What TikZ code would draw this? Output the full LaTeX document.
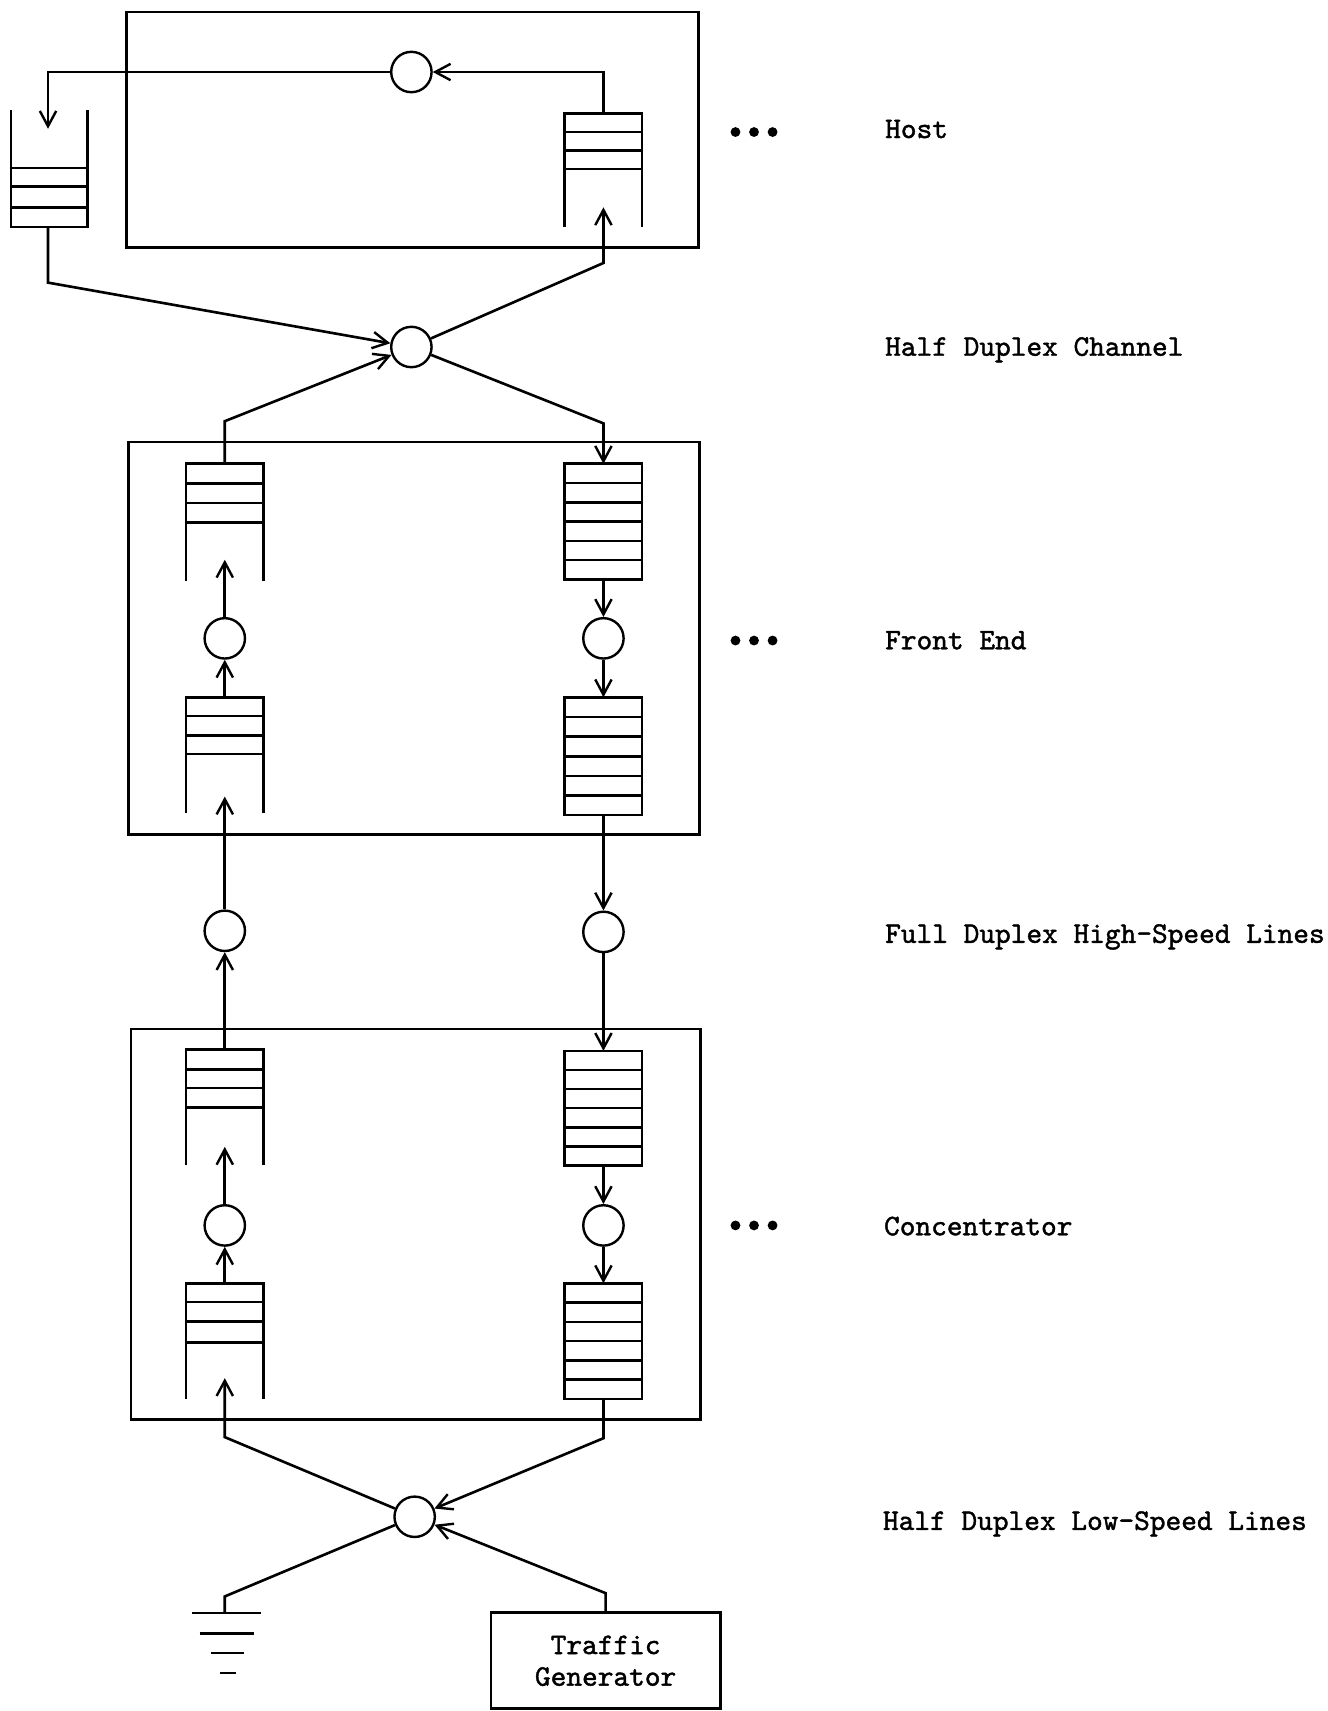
\documentclass[tikz,border=0pt]{standalone}
\usepackage{fontspec}
\usetikzlibrary{arrows.meta}
\newfontfamily\twfont{lmmono10-regular.otf}[FakeBold=1.4]
\newcommand\labfont{\twfont\fontsize{27.4pt}{29pt}\selectfont}
\newcommand\qclosedsix[3]{% cx, top, bottom : six slots
  \draw (#1-35.5,#2) rectangle (#1+35.5,#3);
  \pgfmathsetmacro\qstep{(#3-#2)/6}
  \foreach \k in {1,...,5}{\draw (#1-35.5,#2+\k*\qstep) -- (#1+35.5,#2+\k*\qstep);}
}
\newcommand\qopenbot[6]{% cx, top, l1, l2, l3, wall bottom
  \draw (#1-35.5,#6) -- (#1-35.5,#2) -- (#1+35.5,#2) -- (#1+35.5,#6);
  \foreach \yy in {#3,#4,#5}{\draw (#1-35.5,\yy) -- (#1+35.5,\yy);}
}
\begin{document}
\begin{tikzpicture}[x=1pt,y=-1pt,line width=2.4pt,
  arr/.style={-{Straight Barb[length=14pt,width=15pt,line width=2.2pt]}},
  srv/.style={circle,draw,line width=2.2pt,minimum size=37pt,inner sep=0pt},
  box/.style={draw,line width=2.5pt},
  lbl/.style={anchor=base west,inner sep=0pt,font=\labfont},
  dot/.style={circle,fill,inner sep=0pt,minimum size=9pt}]
\useasboundingbox (0,0) rectangle (1217,1568);

% enclosing boxes
\draw[box] (116,11) rectangle (640,227);
\draw[box] (118,405) rectangle (641,765);
\draw[box] (120,943) rectangle (642,1301);

% queues
% host left (open top)
\draw (10,101) -- (10,208) -- (80,208) -- (80,101);
\foreach \yy in {154,171,190}{\draw (10,\yy) -- (80,\yy);}
% host right (open bottom)
\qopenbot{553}{104}{121}{138}{155}{208}
% front end
\qopenbot{206}{425}{443}{461}{479}{532}
\qclosedsix{553}{425}{531}
\qopenbot{206}{639}{656}{674}{691}{745}
\qclosedsix{553}{639}{747}
% concentrator
\qopenbot{206}{962}{980}{997}{1015}{1068}
\qclosedsix{553}{963}{1068}
\qopenbot{206}{1176}{1193}{1211}{1230}{1282}
\qclosedsix{553}{1176}{1282}

% servers
\node[srv] (hs) at (377,66) {};
\node[srv] (ch) at (377,318) {};
\node[srv] (fel) at (206,585) {};
\node[srv] (fer) at (553,585) {};
\node[srv] (fdl) at (206,853) {};
\node[srv] (fdr) at (553,854) {};
\node[srv] (cl) at (206,1123) {};
\node[srv] (cr) at (553,1123) {};
\node[srv] (ls) at (380,1390) {};

% traffic generator
\node[draw,line width=2.5pt,minimum width=210pt,minimum height=88pt,inner sep=0pt,
      align=center,font=\labfont] (tg) at (555,1522) {Traffic\\Generator};

% queue ends and bends
\coordinate (hrtop) at (553,104);  \coordinate (hrtip) at (553,190);
\coordinate (hltip) at (44,118);   \coordinate (hlbot) at (44,208);
\coordinate (flutop) at (206,425); \coordinate (flutip) at (206,513);
\coordinate (frutop) at (553,425); \coordinate (frubot) at (553,531);
\coordinate (flltop) at (206,639); \coordinate (flltip) at (206,730);
\coordinate (frltop) at (553,639); \coordinate (frlbot) at (553,747);
\coordinate (clutop) at (206,962); \coordinate (clutip) at (206,1051);
\coordinate (crutop) at (553,963); \coordinate (crubot) at (553,1068);
\coordinate (clltop) at (206,1176); \coordinate (clltip) at (206,1263);
\coordinate (crltop) at (553,1176); \coordinate (crlbot) at (553,1282);
\coordinate (b1) at (44,259);   \coordinate (b2) at (553,241);
\coordinate (b3) at (206,386);  \coordinate (b4) at (553,388);
\coordinate (b5) at (206,1317); \coordinate (b6) at (553,1318);
\coordinate (b7) at (555,1460); \coordinate (b8) at (206,1463);
\coordinate (gnd) at (206,1478);

% connectors
\draw[arr] (hrtop) |- (hs);
\draw[arr] (hs) -| (hltip);
\draw[arr] (hlbot) -- (b1) -- (ch);
\draw[arr] (ch) -- (b2) -- (hrtip);
\draw[arr] (flutop) -- (b3) -- (ch);
\draw[arr] (ch) -- (b4) -- (frutop);
\draw[arr] (frubot) -- (fer);
\draw[arr] (fer) -- (frltop);
\draw[arr] (flltop) -- (fel);
\draw[arr] (fel) -- (flutip);
\draw[arr] (frlbot) -- (fdr);
\draw[arr] (fdl) -- (flltip);
\draw[arr] (clutop) -- (fdl);
\draw[arr] (fdr) -- (crutop);
\draw[arr] (crubot) -- (cr);
\draw[arr] (cr) -- (crltop);
\draw[arr] (clltop) -- (cl);
\draw[arr] (cl) -- (clutip);
\draw[arr] (ls) -- (b5) -- (clltip);
\draw[arr] (crlbot) -- (b6) -- (ls);
\draw[arr] (tg.north) -- (b7) -- (ls);
\draw (ls) -- (b8) -- (gnd);

% ground symbol
\draw (176,1478) -- (239,1478);
\draw (183,1497) -- (233,1497);
\draw (193,1515) -- (224,1515);
\draw (202,1533) -- (216,1533);

% dots
\foreach \yy/\nm in {121/a,587/b,1123/c}{
  \node[dot] (d1\nm) at (674,\yy) {};
  \node[dot] (d2\nm) at (691,\yy) {};
  \node[dot] (d3\nm) at (708,\yy) {};
}

% labels
\node[lbl] (lhost) at (810,126.5) {Host};
\node[lbl] (lchan) at (810,326) {Half Duplex Channel};
\node[lbl] (lfe) at (810,595) {Front End};
\node[lbl] (lfd) at (810,864) {Full Duplex High-Speed Lines};
\node[lbl] (lconc) at (809,1132) {Concentrator};
\node[lbl] (lhd) at (808,1402) {Half Duplex Low-Speed Lines};
\end{tikzpicture}
\end{document}
